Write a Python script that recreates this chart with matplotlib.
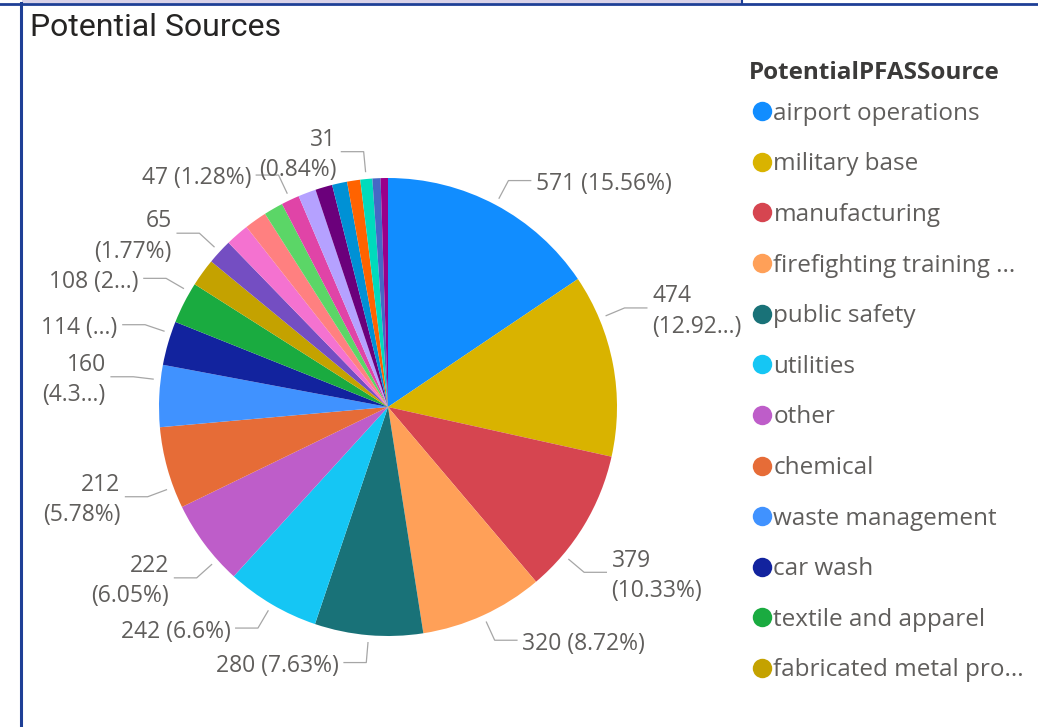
import matplotlib.pyplot as plt
from matplotlib.lines import Line2D
import numpy as np

# data
categories = ["airport operations", "military base", "manufacturing",
              "firefighting training facilities", "public safety", "utilities",
              "other", "chemical", "waste management", "car wash",
              "textile and apparel", "fabricated metal products",
              "landfill", "wastewater treatment", "metal plating", "paper mill",
              "oil and gas", "plastics", "semiconductor", "printing",
              "carpet", "cosmetics", "cleaning products", "other industrial"]
values = [571, 474, 379, 320, 280, 242, 222, 212, 160, 114, 108, 72,
          65, 61, 58, 50, 47, 46, 44, 39, 34, 31, 21, 19]
colors = ["#118DFF", "#D9B300", "#D64550", "#FFA058", "#197278", "#15C6F4",
          "#BE5DC9", "#E66C37", "#4092FF", "#12239E", "#1AAB40", "#C4A200",
          "#744EC2", "#F472D0", "#FF8080", "#5BD667", "#E044A7", "#B5A1FF",
          "#6B007B", "#0091D5", "#FF6300", "#00DBBC", "#4668C5", "#99008A"]

# legend shows only the first 12 entries (rest is behind a scroll bar)
legend_names = ["airport operations", "military base", "manufacturing",
                "firefighting training ...", "public safety", "utilities",
                "other", "chemical", "waste management", "car wash",
                "textile and apparel", "fabricated metal pro..."]

# which slices get a data label, and how it is written
# (None = full "v (p%)", "two" = value over percent, tuple = truncated pct)
label_style = {0: None, 1: ("two", "12.92..."), 2: "two", 3: None, 4: None,
               5: None, 6: "two", 7: "two", 8: ("two", "4.3..."),
               9: (None, "..."), 10: (None, "2..."), 12: "two",
               16: None, 21: "two"}
# small angle nudges (deg) Power BI applies to avoid collisions
label_nudge = {1: -12, 2: 9, 6: -5, 7: -5, 8: 4, 9: 2.5, 10: 3}

W, H = 1038, 727
fig = plt.figure(figsize=(W / 100, H / 100), dpi=100)

# pie axes placed so that 1 data unit = 229 px, center at (388, 407)
cx, cy, R = 388, 407, 229
left, right, top = 20, 740, 60
ax = fig.add_axes([left / W, 0, (right - left) / W, (H - top) / H])
ax.pie(values, colors=colors, startangle=90, counterclock=False,
       radius=1, wedgeprops=dict(linewidth=0))
ax.set_aspect("auto")
ax.set_xlim(-(cx - left) / R, (right - cx) / R)
ax.set_ylim(-(H - cy) / R, (cy - top) / R)
ax.axis("off")

total = sum(values)
cum = np.cumsum([0] + values)
txt_color = "#605E5C"
line_color = "#A6A6A6"


def fmt_pct(p):
    s = f"{p:.2f}".rstrip("0").rstrip(".")
    return s + "%"


for i, style in label_style.items():
    v = values[i]
    pct = fmt_pct(100 * v / total)
    mode = style
    if isinstance(style, tuple):
        mode, pct = style[0], style[1]
    if mode == "two":
        text = f"{v}\n({pct})"
    else:
        text = f"{v} ({pct})"
    mid = 360 * (cum[i] + cum[i + 1]) / 2 / total + label_nudge.get(i, 0)
    th = np.radians(mid)
    sx, sy = np.sin(th), np.cos(th)
    side = 1 if sx >= 0 else -1
    p0 = (1.03 * sx, 1.03 * sy)
    p1 = (1.12 * sx, 1.12 * sy)
    p2 = (p1[0] + side * 0.10, p1[1])
    ax.plot([p0[0], p1[0], p2[0]], [p0[1], p1[1], p2[1]],
            color=line_color, lw=0.9, solid_capstyle="butt")
    ax.text(p2[0] + side * 0.02, p2[1] - 0.015, text,
            ha="left" if side > 0 else "right", va="center",
            multialignment="left" if side > 0 else "right",
            fontsize=16.5, color=txt_color, family="Open Sans",
            linespacing=1.35)

# legend (title drawn separately so its gap can match)
fig.text(749 / W, 1 - 73 / H, "PotentialPFASSource", fontsize=17.5,
         weight="bold", family="Open Sans", color="#3B3A39",
         ha="left", va="center")
handles = [Line2D([], [], marker="o", linestyle="none", markersize=14,
                  markerfacecolor=colors[i], markeredgecolor="none")
           for i in range(len(legend_names))]
leg = fig.legend(handles, legend_names,
                 loc="upper left", bbox_to_anchor=(746 / W, 1 - 92 / H),
                 frameon=False, handlelength=0.55, handletextpad=0.18,
                 labelspacing=1.095, borderaxespad=0,
                 prop={"family": "Open Sans", "size": 17.5})
for t in leg.get_texts():
    t.set_color(txt_color)

# title
fig.text(30 / W, 1 - 27 / H, "Potential Sources", fontsize=23,
         family="Roboto", color="#252423", va="center", ha="left")

# visual frame (blue border of the report tile)
blue = "#1E3F96"
fig.add_artist(Line2D([21 / W, 21 / W], [0, 1 - 3 / H], color=blue, lw=2.2))
fig.add_artist(Line2D([0, 1], [1 - 3.5 / H, 1 - 3.5 / H], color=blue, lw=2))
fig.add_artist(plt.Rectangle((22 / W, 1 - 3 / H), (742 - 22) / W, 3 / H,
                             facecolor="#D9D2E9", edgecolor="none"))
fig.add_artist(Line2D([742 / W, 742 / W], [1 - 3 / H, 1], color=blue, lw=1.5))

fig.savefig("out.png", dpi=100)
